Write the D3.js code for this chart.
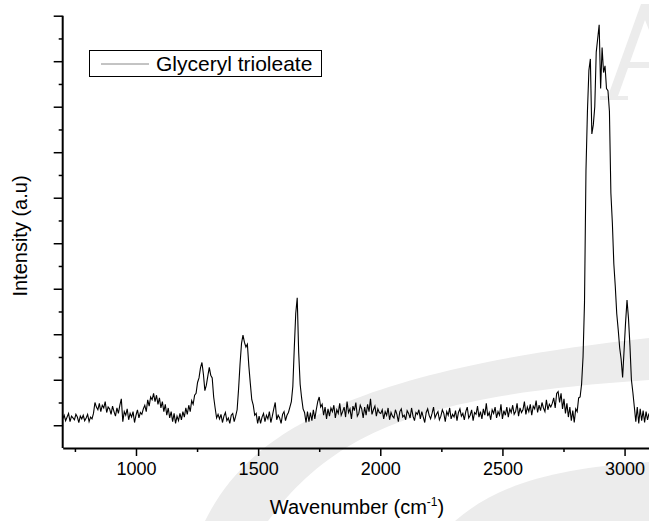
<!DOCTYPE html>
<html>
<head>
<meta charset="utf-8">
<script src="https://cdn.jsdelivr.net/npm/d3@7"></script>
<style>
  body { margin: 0; background: #fff; }
  text { font-family: "Liberation Sans", Arial, sans-serif; fill: #000; }
</style>
</head>
<body>
<div id="chart"></div>
<script>
// Raman spectrum: [wavenumber cm-1, intensity a.u.]
var spectrum = [
  [700,14],[706,22],[712,10],[718,18],[724,26],[730,8],[736,20],[742,16],[748,12],[754,24],
  [760,18],[766,6],[772,20],[778,14],[784,22],[790,10],[796,16],[802,24],[808,8],[814,18],[820,14],
  [826,26],[832,50],[838,40],[844,34],[850,48],[856,30],[862,44],[868,38],[874,52],[880,28],
  [886,40],[892,36],[898,24],[904,42],[910,30],[916,20],[922,38],[928,26],[934,44],[940,58],[946,8],
  [952,30],[958,22],[964,36],[970,12],[976,26],[982,18],[988,30],[994,6],[1000,22],[1006,34],[1012,16],[1018,28],[1024,24],
  [1030,36],[1036,44],[1042,30],[1048,56],[1054,42],[1060,62],[1066,56],[1072,70],[1078,52],[1084,66],
  [1090,46],[1096,60],[1102,38],[1108,52],[1114,30],[1120,46],[1126,22],[1132,38],[1138,16],[1144,30],
  [1150,8],[1156,26],[1162,4],[1168,20],
  [1174,10],[1180,26],[1186,12],[1192,30],[1198,18],[1204,38],[1210,24],[1216,44],[1222,30],[1228,54],[1234,46],[1240,66],
  [1246,70],[1252,94],[1258,104],[1264,126],[1270,138],[1276,112],[1282,76],[1288,88],[1294,108],[1300,127],
  [1306,110],[1312,104],[1318,62],[1324,38],[1330,16],[1336,24],
  [1342,14],[1348,24],[1354,6],[1360,20],[1366,28],[1372,10],[1378,16],[1384,4],[1390,22],[1396,26],[1402,8],[1408,20],[1414,34],
  [1420,80],[1426,135],[1432,180],[1438,198],[1444,182],[1450,172],[1456,178],[1462,130],[1468,92],[1474,56],
  [1480,44],[1486,22],[1492,26],[1498,4],
  [1504,20],[1510,4],[1516,18],[1522,26],[1528,8],[1534,22],[1540,14],[1546,30],[1552,6],[1558,20],[1564,36],
  [1570,50],[1576,12],[1582,22],[1588,16],[1594,4],[1600,24],[1606,30],[1612,10],[1618,22],[1624,28],[1630,40],
  [1636,52],[1642,85],[1648,170],[1654,246],[1660,280],[1666,160],[1672,90],[1678,60],[1684,36],[1690,28],
  [1696,6],[1702,30],[1708,8],[1714,28],[1720,10],[1726,34],[1732,14],[1738,34],
  [1744,52],[1750,62],[1756,40],[1762,46],[1768,22],[1774,40],[1780,14],[1786,36],
  [1792,20],[1798,38],[1804,30],[1810,44],[1816,16],[1822,34],[1828,26],[1834,48],[1840,22],[1846,30],
  [1852,40],[1858,18],[1864,52],[1870,28],[1876,36],[1882,14],[1888,42],[1894,32],[1900,50],[1906,20],
  [1912,26],[1918,44],[1924,36],[1930,16],[1936,40],[1942,22],[1948,46],[1954,30],[1960,58],[1966,24],
  [1972,34],[1978,42],[1984,20],[1990,36],[1996,28],
  [2002,26],[2008,34],[2014,14],[2020,30],[2026,22],[2032,38],[2038,12],[2044,28],[2050,20],[2056,16],
  [2062,34],[2068,24],[2074,8],[2080,30],[2086,36],[2092,18],[2098,22],[2104,12],[2110,32],[2116,26],
  [2122,16],[2128,38],[2134,20],[2140,10],[2146,28],[2152,24],[2158,34],[2164,14],[2170,30],[2176,18],
  [2182,6],[2188,28],[2194,36],[2200,22],[2206,14],[2212,26],[2218,40],[2224,16],[2230,24],[2236,30],
  [2242,12],[2248,20],[2254,34],[2260,26],[2266,8],[2272,30],[2278,22],[2284,38],[2290,14],[2296,24],
  [2302,18],[2308,32],[2314,10],[2320,28],[2326,36],[2332,20],[2338,26],[2344,12],[2350,30],[2356,40],
  [2362,16],[2368,22],[2374,34],[2380,10],[2386,28],[2392,24],[2398,42],[2404,18],[2410,30],[2416,14],
  [2422,36],[2428,22],[2434,48],[2440,20],[2446,28],[2452,12],[2458,34],[2464,26],[2470,40],[2476,16],
  [2482,30],[2488,22],[2494,46],[2500,14],
  [2506,32],[2512,22],[2518,40],[2524,18],[2530,36],[2536,28],[2542,44],[2548,24],[2554,30],[2560,48],
  [2566,20],[2572,38],[2578,28],[2584,34],[2590,52],[2596,24],[2602,40],[2608,30],[2614,46],[2620,22],
  [2626,42],[2632,36],[2638,54],[2644,28],[2650,44],[2656,32],[2662,50],[2668,38],[2674,30],[2680,56],
  [2686,34],[2692,46],[2698,40],
  [2704,48],[2710,60],[2716,38],[2722,70],[2728,74],[2734,50],[2740,70],[2746,36],[2752,58],[2758,26],
  [2764,48],[2770,18],[2776,40],[2782,10],[2788,32],[2794,6],[2800,36],[2806,30],[2812,60],[2818,62],[2824,90],
  [2830,150],[2836,270],[2842,560],[2848,690],[2854,780],[2860,805],[2866,640],[2872,660],[2878,700],[2884,820],
  [2890,850],[2896,880],[2902,740],[2908,830],[2914,775],[2920,790],[2926,740],[2932,735],[2938,690],[2944,510],
  [2950,445],[2956,355],[2962,305],[2968,245],[2974,210],[2980,170],[2986,145],[2992,105],[2998,165],[3004,225],
  [3010,275],[3016,235],[3022,175],[3028,100],[3034,72],[3040,40],[3046,8],[3052,40],[3058,4],[3064,36],
  [3070,10],[3076,32],[3082,6],[3088,30],[3094,12],[3100,26]
];

var xMajorTicks = [1000, 1500, 2000, 2500, 3000];
var xMinorTicks = [750, 1250, 1750, 2250, 2750];
var yMajorTicks = [0, 100, 200, 300, 400, 500, 600, 700, 800, 900];
var yMinorTicks = [50, 150, 250, 350, 450, 550, 650, 750, 850];
var seriesName = "Glyceryl trioleate";

var W = 649, H = 521;
var plotLeft = 62.7, plotRight = 649, plotTop = 15.7, plotBottom = 448;

var svg = d3.select("#chart").append("svg")
  .attr("width", W)
  .attr("height", H);

// faint watermark behind the plot
var wm = svg.append("g").attr("class", "watermark");
wm.append("path")
  .attr("d", "M205,521 C245,440 335,372 649,338 L649,380 C425,395 335,430 268,521 Z")
  .attr("fill", "#ececec");
wm.append("path")
  .attr("d", "M455,521 C500,482 560,468 649,462 L649,521 Z")
  .attr("fill", "#ececec");
wm.append("path")
  .attr("d", "M649,4 L641,4 L608,96 L600,96 L600,100 L628,100 L628,96 L618,96 L628,68 L649,68 L649,62 L630,62 L645,20 L649,30 Z")
  .attr("fill", "#ececec");

var x = d3.scaleLinear().domain([700, 3100]).range([plotLeft, plotRight]);
var y = d3.scaleLinear().domain([-50, 900]).range([plotBottom, plotTop]);

// spectrum
var line = d3.line()
  .x(function(d) { return x(d[0]); })
  .y(function(d) { return y(d[1]); });

svg.append("path")
  .datum(spectrum)
  .attr("fill", "none")
  .attr("stroke", "#000")
  .attr("stroke-width", 1.1)
  .attr("d", line);

// x axis
var xAxis = svg.append("g")
  .attr("transform", "translate(0," + plotBottom + ")")
  .call(d3.axisBottom(x).tickValues(xMajorTicks).tickSize(8).tickSizeOuter(0).tickPadding(6).tickFormat(d3.format("d")));
xAxis.append("g")
  .call(d3.axisBottom(x).tickValues(xMinorTicks).tickSize(4).tickSizeOuter(0).tickFormat(""))
  .select(".domain").remove();
xAxis.selectAll(".domain").attr("stroke", "#000").attr("stroke-width", 2);
xAxis.selectAll(".tick line").attr("stroke", "#000").attr("stroke-width", 1.5);
xAxis.selectAll(".tick text")
  .style("font-family", "'Liberation Sans', Arial, sans-serif")
  .style("font-size", "18px")
  .attr("fill", "#000");

// y axis (no labels)
var yAxis = svg.append("g")
  .attr("transform", "translate(" + plotLeft + ",0)")
  .call(d3.axisLeft(y).tickValues(yMajorTicks).tickSize(9).tickSizeOuter(0).tickFormat(""));
yAxis.append("g")
  .call(d3.axisLeft(y).tickValues(yMinorTicks).tickSize(4).tickSizeOuter(0).tickFormat(""))
  .select(".domain").remove();
yAxis.select(".domain").attr("d", "M0," + plotTop + "V" + plotBottom);
yAxis.selectAll(".domain").attr("stroke", "#000").attr("stroke-width", 2);
yAxis.selectAll(".tick line").attr("stroke", "#000").attr("stroke-width", 1.5);

// axis titles
var xt = svg.append("text")
  .attr("x", 357).attr("y", 514)
  .attr("text-anchor", "middle")
  .style("font-size", "20px");
xt.append("tspan").text("Wavenumber (cm");
xt.append("tspan").attr("dy", -8).style("font-size", "12px").text("-1");
xt.append("tspan").attr("dy", 8).text(")");

svg.append("text")
  .attr("transform", "translate(27,236) rotate(-90)")
  .attr("text-anchor", "middle")
  .style("font-size", "20px")
  .text("Intensity (a.u)");

// legend
var legend = svg.append("g").attr("transform", "translate(89,50)");
legend.append("rect")
  .attr("x", 0.5).attr("y", 0.5)
  .attr("width", 232).attr("height", 26)
  .attr("fill", "#fff")
  .attr("stroke", "#000").attr("stroke-width", 1);
legend.append("line")
  .attr("x1", 12).attr("x2", 60)
  .attr("y1", 14).attr("y2", 14)
  .attr("stroke", "#888").attr("stroke-width", 1);
legend.append("text")
  .attr("x", 67).attr("y", 21)
  .style("font-size", "21px")
  .text(seriesName);
</script>
</body>
</html>
